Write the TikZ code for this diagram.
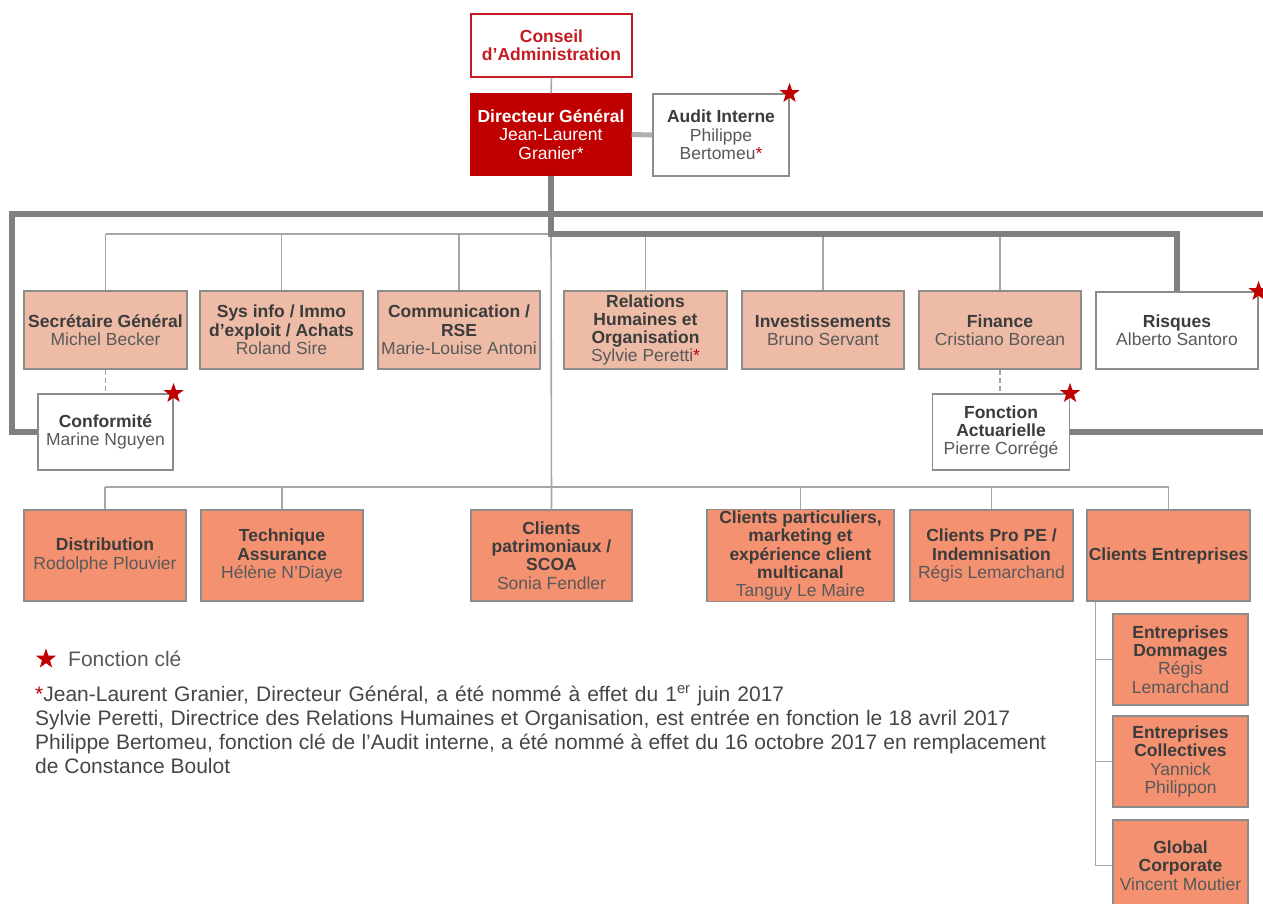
\documentclass[tikz,border=0pt]{standalone}
\usepackage{fontspec}
\setmainfont{Liberation Sans}
\usetikzlibrary{shapes.geometric}
\definecolor{dgred}{RGB}{192,0,0}
\definecolor{conseilred}{RGB}{196,28,36}
\definecolor{starred}{RGB}{192,0,0}
\definecolor{fillA}{RGB}{237,187,166}
\definecolor{fillB}{RGB}{243,145,112}
\definecolor{boxborder}{RGB}{140,140,140}
\definecolor{thickgray}{RGB}{128,128,128}
\definecolor{thingray}{RGB}{166,166,166}
\definecolor{auditgray}{RGB}{175,175,175}
\definecolor{titlegray}{RGB}{60,60,60}
\definecolor{namegray}{RGB}{89,89,89}
\definecolor{fngray}{RGB}{70,70,70}
\newcommand\nm[1]{{\mdseries\color{namegray}#1}}
\newcommand\nmw[1]{{\mdseries #1}}
\newcommand\rs{{\color{starred}*}}
\begin{document}
\begin{tikzpicture}[x=1pt,y=-1pt,
  box/.style={draw=boxborder, line width=1.1pt, rectangle, inner sep=1pt, align=center,
    font=\fontsize{17.5}{18.3}\selectfont\bfseries, text=titlegray},
  boxA/.style={box, fill=fillA, minimum height=78},
  boxB/.style={box, fill=fillB, minimum height=91},
  boxW/.style={box, fill=white},
  keystar/.style={star, star points=5, star point ratio=2.5, fill=starred, draw=none, inner sep=0pt, minimum size=21pt},
  thickline/.style={draw=thickgray, line width=6pt},
  thinline/.style={draw=thingray, line width=1.6pt},
  dashline/.style={draw=thingray, line width=1.4pt, dash pattern=on 5pt off 3pt},
  fn/.style={inner sep=0pt, anchor=base west, font=\fontsize{21}{24}\selectfont, text=fngray}
]
\clip (0,0) rectangle (1263,904);
\fill[white] (0,0) rectangle (1263,904);

% top
\node[box, draw=conseilred, fill=white, text=conseilred, minimum width=161, minimum height=63] (ca) at (551.5,45.5) {Conseil\\d’Administration};
\node[box, draw=dgred, fill=dgred, text=white, minimum width=160, minimum height=81] (dg) at (551,134.5) {Directeur Général\\\nmw{Jean-Laurent}\\\nmw{Granier*}};
\node[boxW, minimum width=136, minimum height=82] (au) at (721,135) {Audit Interne\\\nm{Philippe}\\\nm{Bertomeu\rs}};

% row 1
\node[boxA, minimum width=163] (sg) at (105.5,330) {Secrétaire Général\\\nm{Michel Becker}};
\node[boxA, minimum width=163] (sys) at (281.5,330) {Sys info / Immo\\d’exploit / Achats\\\nm{Roland Sire}};
\node[boxA, minimum width=162] (com) at (459,330) {Communication /\\RSE\\\nm{Marie-Louise Antoni}};
\node[boxA, minimum width=163] (rh) at (645.5,330) {Relations\\Humaines et\\Organisation\\\nm{Sylvie Peretti\rs}};
\node[boxA, minimum width=162] (inv) at (823,330) {Investissements\\\nm{Bruno Servant}};
\node[boxA, minimum width=162] (fin) at (1000,330) {Finance\\\nm{Cristiano Borean}};
\node[boxW, minimum width=162, minimum height=77] (ri) at (1177,330.5) {Risques\\\nm{Alberto Santoro}};

% key functions
\node[boxW, minimum width=135, minimum height=76] (conf) at (105.5,432) {Conformité\\\nm{Marine Nguyen}};
\node[boxW, minimum width=137, minimum height=76] (fa) at (1001,432) {Fonction\\Actuarielle\\\nm{Pierre Corrégé}};

% row 2
\node[boxB, minimum width=162] (dist) at (105,555.5) {Distribution\\\nm{Rodolphe Plouvier}};
\node[boxB, minimum width=162] (tech) at (282,555.5) {Technique\\Assurance\\\nm{Hélène N’Diaye}};
\node[boxB, minimum width=161] (cp) at (551.5,555.5) {Clients\\patrimoniaux /\\SCOA\\\nm{Sonia Fendler}};
\node[boxB, minimum width=187] (cpa) at (800.5,555.5) {Clients particuliers,\\marketing et\\expérience client\\multicanal\\\nm{Tanguy Le Maire}};
\node[boxB, minimum width=163] (cpro) at (991.5,555.5) {Clients Pro PE /\\Indemnisation\\\nm{Régis Lemarchand}};
\node[boxB, minimum width=163] (ce) at (1168.5,555.5) {Clients Entreprises};

% sub boxes
\node[boxB, minimum width=135] (ed) at (1180.5,659.5) {Entreprises\\Dommages\\\nm{Régis}\\\nm{Lemarchand}};
\node[boxB, minimum width=135] (ec) at (1180.5,761.5) {Entreprises\\Collectives\\\nm{Yannick}\\\nm{Philippon}};
\node[boxB, minimum width=135] (gc) at (1180.5,865.5) {Global\\Corporate\\\nm{Vincent Moutier}};

% coordinates
\coordinate (bus1) at (551,234);
\coordinate (bus2) at (551,487);
\coordinate (r1) at (1275,214);
\coordinate (lc) at (12,214);
\coordinate (r2) at (1275,432);

% connectors
\draw[thinline] (ca.south) -- (dg.north);
\draw[draw=auditgray, line width=5pt] (dg.east) -- (au.west);
\draw[thinline] (sg.north |- bus1) -- (fin.north |- bus1);
\foreach \n in {sg,sys,com,rh,inv,fin} \draw[thinline] (\n.north |- bus1) -- (\n.north);
\draw[thinline] (bus1) -- (cp.north);
\draw[thinline] (dist.north |- bus2) -- (ce.north |- bus2);
\foreach \n in {dist,tech,cpa,cpro,ce} \draw[thinline] (\n.north |- bus2) -- (\n.north);
\draw[thinline] ([xshift=9pt]ce.south west) |- (ed.west);
\draw[thinline] ([xshift=9pt]ce.south west) |- (ec.west);
\draw[thinline] ([xshift=9pt]ce.south west) |- (gc.west);
\draw[dashline] (sg.south) -- (sg.south |- conf.north);
\draw[dashline] (fin.south) -- (fin.south |- fa.north);
\draw[thickline] (dg.south) -- (bus1) -| (ri.north);
\draw[thickline] (r1) -- (lc) |- (conf.west);
\draw[thickline] (fa.east) -- (r2);

% stars
\node[keystar] (st1) at (au.north east) {};
\node[keystar] (st2) at (ri.north east) {};
\node[keystar] (st3) at (conf.north east) {};
\node[keystar] (st4) at (fa.north east) {};

% legend
\node[keystar] (lst) at (46,659) {};
\node[fn, text=namegray] (leg) at (68,666.5) {Fonction clé};
\node[fn] (f1) at (35,701) {\makebox[749pt][s]{\textcolor{starred}{*}Jean-Laurent Granier, Directeur Général, a été nommé à effet du 1\textsuperscript{er} juin 2017}};
\node[fn] (f2) at (35,725) {\makebox[975pt][s]{Sylvie Peretti, Directrice des Relations Humaines et Organisation, est entrée en fonction le 18 avril 2017}};
\node[fn] (f3) at (35,749) {\makebox[1011pt][s]{Philippe Bertomeu, fonction clé de l’Audit interne, a été nommé à effet du 16 octobre 2017 en remplacement}};
\node[fn] (f4) at (35,773) {de Constance Boulot};
\end{tikzpicture}
\end{document}
